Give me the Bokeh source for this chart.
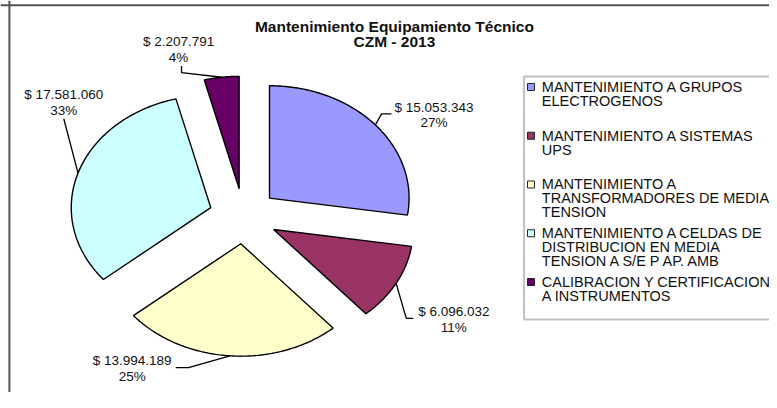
import numpy as np
from bokeh.plotting import figure
from bokeh.models import Range1d, Span, BoxAnnotation
from bokeh.core.properties import value
from bokeh.embed import file_html
from bokeh.resources import INLINE

# ---------------- data ----------------
categories = [
    "MANTENIMIENTO A GRUPOS\nELECTROGENOS",
    "MANTENIMIENTO A SISTEMAS\nUPS",
    "MANTENIMIENTO A\nTRANSFORMADORES DE MEDIA\nTENSION",
    "MANTENIMIENTO A CELDAS DE\nDISTRIBUCION EN MEDIA\nTENSION A S/E P AP. AMB",
    "CALIBRACION Y CERTIFICACION\nA INSTRUMENTOS",
]
amounts = [15053343, 6096032, 13994189, 17581060, 2207791]
amount_labels = ["$ 15.053.343", "$ 6.096.032", "$ 13.994.189", "$ 17.581.060", "$ 2.207.791"]
pct_labels = ["27%", "11%", "25%", "33%", "4%"]
title_lines = ["Mantenimiento Equipamiento Técnico", "CZM - 2013"]

# ---------------- style / layout ----------------
colors = ["#9999FF", "#993366", "#FFFFCC", "#CCFFFF", "#660066"]
W, H = 769, 392
CX, CY = 245.5, 224.5          # pie centre
RX, RY = 141.0, 117.0          # pie radii (stretched pie)
EXPLODE = 0.246                # explosion as fraction of radius
# label anchors: polar (deg, radius factor) around the pie centre
label_polar = [(35.4, 1.675), (-29.4, 1.730), (-121.8, 1.514), (140.0, 1.681), (106.7, 1.619)]
# leader geometry relative to label anchor: (elbow dx, dy), (end dx, dy)
leader_rel = [((-53, 7), (-43, 7)), ((-48, 7), (-41, 7)), ((57, 7), (44, 7)),
              ((0, 25), (0, 25)), ((3, 32), (3, 25))]
LINE2 = 16.5
LEG_X, LEG_Y0, LEG_STEP, LEG_LINE = 536, 90, 50.75, 14.5
FONT = value("Liberation Sans")

p = figure(width=W, height=H, x_range=Range1d(0, 777), y_range=Range1d(408, 0),
           output_backend="svg", toolbar_location=None, min_border=0)
p.axis.visible = False
p.grid.visible = False
p.outline_line_color = None
p.background_fill_color = "white"
p.border_fill_color = "white"

# chart frame (left & top edges visible)
p.add_layout(Span(location=9, dimension="height", line_color="#555555", line_width=2))
p.add_layout(Span(location=5, dimension="width", line_color="#555555", line_width=2))

# ---------------- pie ----------------
vals = np.array(amounts, dtype=float)
frac = vals / vals.sum()
cum = np.concatenate([[0.0], np.cumsum(frac)])
xs, ys, mids = [], [], []
for i in range(len(vals)):
    t0 = np.radians(90 - 360 * cum[i])
    t1 = np.radians(90 - 360 * cum[i + 1])
    tm = (t0 + t1) / 2
    ax = CX + EXPLODE * RX * np.cos(tm)
    ay = CY - EXPLODE * RY * np.sin(tm)
    t = np.linspace(t0, t1, 120)
    xs.append([ax] + list(ax + RX * np.cos(t)))
    ys.append([ay] + list(ay - RY * np.sin(t)))
    mids.append((ax + RX * np.cos(tm), ay - RY * np.sin(tm)))
p.patches(xs=xs, ys=ys, fill_color=colors, line_color="black", line_width=1.4)

# ---------------- data labels + leaders ----------------
lx, ly, lxs, lys = [], [], [], []
for i, (ang, r) in enumerate(label_polar):
    a = np.radians(ang)
    x0 = CX + r * RX * np.cos(a)
    y0 = CY - r * RY * np.sin(a)
    lx.append(x0)
    ly.append(y0)
    (edx, edy), (ndx, ndy) = leader_rel[i]
    lxs.append([mids[i][0], x0 + edx, x0 + ndx])
    lys.append([mids[i][1], y0 + edy, y0 + ndy])
p.multi_line(xs=lxs, ys=lys, line_color="black", line_width=1.3)
p.text(x=lx, y=ly, text=amount_labels, text_align="center", text_baseline="middle",
       text_font=FONT, text_font_size="13.5px", text_color="#111111")
p.text(x=lx, y=[v + LINE2 for v in ly], text=pct_labels, text_align="center",
       text_baseline="middle", text_font=FONT, text_font_size="13.5px", text_color="#111111")

# ---------------- title ----------------
p.text(x=[398, 398], y=[27, 43], text=title_lines, text_align="center", text_baseline="middle",
       text_font=FONT, text_font_size="15.5px", text_font_style="bold", text_color="#111111")

# ---------------- legend ----------------
p.add_layout(BoxAnnotation(left=529, right=900, top=79, bottom=332, fill_alpha=0,
                           line_color="#333333", line_width=2))
ent_y = [LEG_Y0 + i * LEG_STEP for i in range(len(categories))]
p.scatter(x=[LEG_X] * len(categories), y=ent_y, marker="square", size=7,
          fill_color=colors, line_color="#222222", line_width=1)
tx, ty, tt = [], [], []
for i, cat in enumerate(categories):
    for k, line in enumerate(cat.split("\n")):
        tx.append(LEG_X + 11)
        ty.append(ent_y[i] + k * LEG_LINE)
        tt.append(line)
p.text(x=tx, y=ty, text=tt, text_align="left", text_baseline="middle",
       text_font=FONT, text_font_size="14.5px", text_color="#111111")

open("out.html", "w").write(file_html(p, INLINE))
